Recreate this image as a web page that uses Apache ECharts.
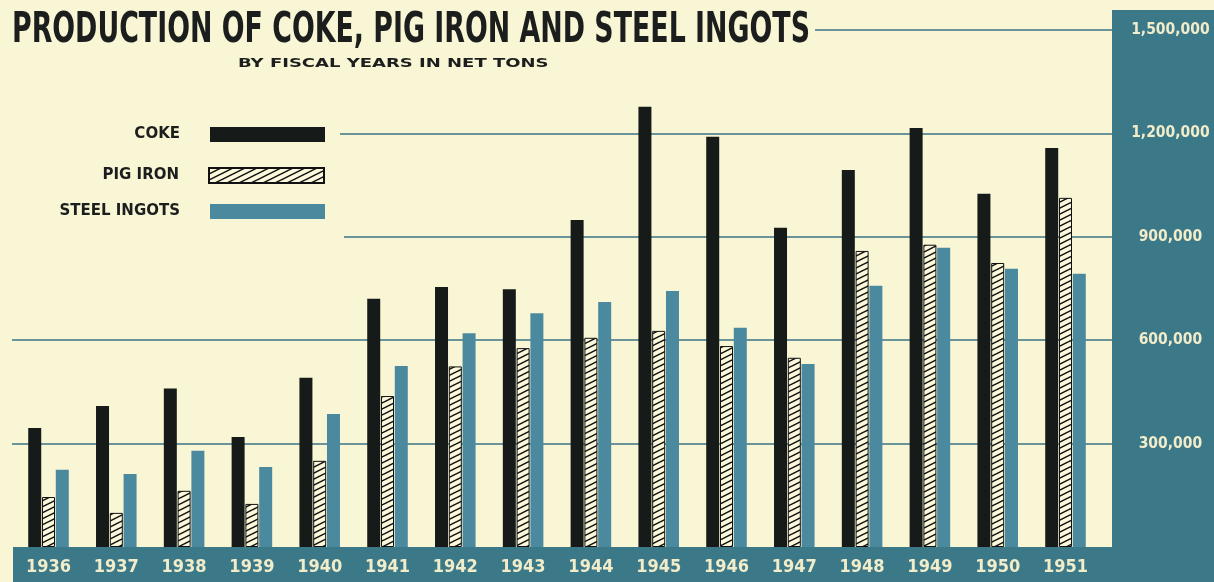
<!DOCTYPE html>
<html>
<head>
<meta charset="utf-8">
<script src="https://cdn.jsdelivr.net/npm/echarts@6/dist/echarts.min.js"></script>
<style>
html,body{margin:0;padding:0;background:#f9f6d6;}
#chart{width:1214px;height:582px;}
</style>
</head>
<body>
<div id="chart"></div>
<script>
// ---- data ----
const years = ['1936','1937','1938','1939','1940','1941','1942','1943','1944','1945','1946','1947','1948','1949','1950','1951'];
const coke = [345000, 409000, 460000, 319000, 491000, 720000, 754000, 748000, 949000, 1277000, 1190000, 926000, 1094000, 1216000, 1025000, 1158000];
const pigIron = [145000, 99000, 163000, 125000, 250000, 438000, 524000, 577000, 607000, 627000, 583000, 549000, 859000, 877000, 824000, 1013000];
const steelIngots = [224000, 212000, 279000, 232000, 386000, 525000, 620000, 678000, 711000, 743000, 636000, 531000, 758000, 868000, 807000, 793000];
const yTicks = [0, 300000, 600000, 900000, 1200000, 1500000];
const seriesNames = ['COKE', 'PIG IRON', 'STEEL INGOTS'];
const titleText = 'PRODUCTION OF COKE, PIG IRON AND STEEL INGOTS';
const subtitleText = 'BY FISCAL YEARS IN NET TONS';

// ---- styles ----
const CREAM = '#f9f6d6';
const PANEL = '#3b7888';
const STEEL = '#4b899f';
const BLACK = '#161b19';
const GRID = '#3a7386';
const LABEL = '#f1ecca';
const INK = '#1b1e1c';
const condensed = '"DejaVu Sans Condensed", "Liberation Sans Narrow", sans-serif';

function hatch() {
  const c = document.createElement('canvas');
  c.width = 12; c.height = 6;
  const g = c.getContext('2d');
  g.fillStyle = '#fbf8dc';
  g.fillRect(0, 0, 12, 6);
  g.strokeStyle = '#111';
  g.lineWidth = 1.5;
  for (let k = -1; k <= 1; k++) {
    g.beginPath();
    g.moveTo(-2, 7 + 6 * k);
    g.lineTo(14, -1 + 6 * k);
    g.stroke();
  }
  return c;
}

const chart = echarts.init(document.getElementById('chart'), null, {renderer: 'canvas'});

const gridLineStarts = {300000: 12, 600000: 12, 900000: 344, 1200000: 340, 1500000: 815};
const markLines = yTicks.filter(v => v > 0).map(v => [
  {x: gridLineStarts[v], yAxis: v},
  {x: 1112, yAxis: v}
]);

function legend(name, top) {
  return {
    data: [{name: name, icon: 'rect'}],
    right: 884,
    top: top,
    align: 'right',
    itemWidth: 115,
    itemHeight: 15,
    textStyle: {
      fontFamily: '"DejaVu Sans", sans-serif',
      fontWeight: 'bold',
      fontSize: 15,
      color: INK,
      padding: [0, 25, 0, 0]
    }
  };
}

chart.setOption({
  backgroundColor: CREAM,
  animation: false,
  legend: [legend(seriesNames[0], 122), legend(seriesNames[1], 162), legend(seriesNames[2], 199)],
  graphic: [
    {type: 'rect', z: -10, shape: {x: 1112, y: 10, width: 102, height: 572}, style: {fill: PANEL}},
    {type: 'rect', z: -10, shape: {x: 13, y: 547, width: 1201, height: 35}, style: {fill: PANEL}},
    {
      type: 'text', x: 12, y: 10, scaleX: 0.71, scaleY: 1.0, z: 10,
      style: {text: titleText, fontFamily: condensed, fontWeight: 'bold', fontSize: 42, fill: INK, verticalAlign: 'top'}
    },
    {
      type: 'text', x: 238, y: 57, scaleX: 1.6, z: 10,
      style: {text: subtitleText, fontFamily: '"DejaVu Sans Condensed", sans-serif', fontWeight: 'bold', fontSize: 12.5, fill: INK, verticalAlign: 'top'}
    }
  ],
  grid: {left: 14.6, right: 114.6, top: 30, bottom: 35, containLabel: false},
  xAxis: {
    type: 'category',
    data: years,
    axisLine: {show: false},
    axisTick: {show: false},
    axisLabel: {color: LABEL, fontFamily: condensed, fontWeight: 'bold', fontSize: 18, margin: 11}
  },
  yAxis: {
    type: 'value',
    position: 'right',
    min: yTicks[0],
    max: yTicks[yTicks.length - 1],
    interval: yTicks[1] - yTicks[0],
    axisLine: {show: false},
    axisTick: {show: false},
    splitLine: {show: false},
    axisLabel: {
      color: LABEL, fontFamily: condensed, fontWeight: 'bold', fontSize: 15.5,
      align: 'center', margin: 71,
      formatter: v => v === 0 ? '' : v.toLocaleString('en-US')
    }
  },
  series: [
    {
      name: seriesNames[0], type: 'bar', data: coke, barWidth: 13, barGap: '6%',
      itemStyle: {color: BLACK},
      markLine: {
        silent: true, symbol: 'none', label: {show: false}, z: 1,
        lineStyle: {color: GRID, width: 1.5, type: 'solid'},
        data: markLines
      }
    },
    {
      name: seriesNames[1], type: 'bar', data: pigIron, barWidth: 13, barGap: '6%',
      itemStyle: {color: {image: hatch(), repeat: 'repeat'}, borderColor: '#111', borderWidth: 1}
    },
    {
      name: seriesNames[2], type: 'bar', data: steelIngots, barWidth: 13, barGap: '6%',
      itemStyle: {color: STEEL}
    }
  ]
});
</script>
</body>
</html>
